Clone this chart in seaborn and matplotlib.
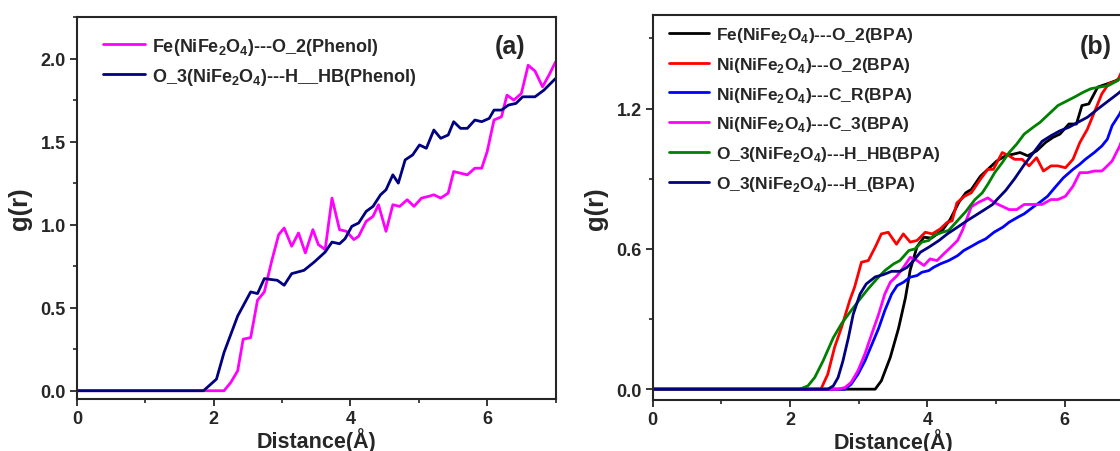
import matplotlib
matplotlib.use('Agg')
import matplotlib.pyplot as plt
import seaborn as sns
import pandas as pd
from matplotlib.ticker import MultipleLocator

# ---- panel (a): phenol ----
a_fe_o2_x = [0, 2.15, 2.25, 2.35, 2.43, 2.54, 2.64, 2.74, 2.85, 2.95, 3.03, 3.14, 3.24, 3.34,
             3.45, 3.53, 3.63, 3.73, 3.84, 3.94, 4.05, 4.12, 4.23, 4.33, 4.41, 4.52, 4.62,
             4.72, 4.83, 4.93, 5.04, 5.14, 5.22, 5.32, 5.43, 5.51, 5.61, 5.71, 5.82, 5.92,
             6.00, 6.10, 6.21, 6.29, 6.39, 6.50, 6.60, 6.70, 6.81, 6.91, 7.0]
a_fe_o2_y = [0, 0, 0.05, 0.12, 0.31, 0.32, 0.545, 0.595, 0.785, 0.94, 0.98, 0.87, 0.95, 0.83,
             0.97, 0.88, 0.85, 1.16, 0.97, 0.96, 0.91, 0.93, 1.02, 1.05, 1.12, 0.96, 1.12,
             1.11, 1.15, 1.11, 1.16, 1.17, 1.18, 1.16, 1.19, 1.32, 1.31, 1.30, 1.34, 1.34,
             1.44, 1.63, 1.65, 1.78, 1.75, 1.79, 1.96, 1.925, 1.83, 1.905, 1.98]

a_o3_hb_x = [0, 1.85, 2.04, 2.15, 2.35, 2.54, 2.64, 2.74, 2.93, 3.03, 3.14, 3.32, 3.47, 3.63,
             3.73, 3.84, 3.92, 4.02, 4.12, 4.23, 4.33, 4.44, 4.52, 4.62, 4.70, 4.80, 4.91,
             5.01, 5.11, 5.22, 5.32, 5.43, 5.51, 5.61, 5.71, 5.82, 5.92, 6.03, 6.10, 6.21,
             6.31, 6.42, 6.52, 6.70, 6.83, 7.0]
a_o3_hb_y = [0, 0, 0.07, 0.23, 0.45, 0.595, 0.585, 0.675, 0.665, 0.635, 0.705, 0.725, 0.775,
             0.835, 0.895, 0.885, 0.915, 0.99, 1.01, 1.08, 1.11, 1.18, 1.21, 1.30, 1.25, 1.39,
             1.42, 1.48, 1.46, 1.57, 1.52, 1.54, 1.62, 1.58, 1.58, 1.63, 1.62, 1.64, 1.69,
             1.69, 1.72, 1.73, 1.77, 1.77, 1.81, 1.88]

# ---- panel (b): BPA ----
b_fe_o2_x = [0, 3.24, 3.33, 3.46, 3.58, 3.68, 3.75, 3.85, 3.95, 4.06, 4.22, 4.33, 4.46, 4.56,
             4.64, 4.77, 4.88, 5.01, 5.14, 5.25, 5.35, 5.46, 5.59, 5.72, 5.83, 5.93, 6.06,
             6.17, 6.25, 6.35, 6.48, 6.62, 6.75, 6.88, 7.0]
b_fe_o2_y = [0, 0, 0.036, 0.136, 0.26, 0.39, 0.51, 0.61, 0.65, 0.646, 0.68, 0.725, 0.80, 0.84,
             0.854, 0.91, 0.94, 0.976, 0.998, 1.005, 1.012, 0.998, 1.019, 1.055, 1.077, 1.091,
             1.134, 1.134, 1.213, 1.22, 1.292, 1.306, 1.32, 1.349, 1.38]

b_ni_o2_x = [0, 2.45, 2.55, 2.65, 2.75, 2.87, 2.94, 3.04, 3.14, 3.24, 3.33, 3.43, 3.55, 3.65,
             3.75, 3.85, 3.97, 4.07, 4.19, 4.29, 4.36, 4.43, 4.54, 4.64, 4.77, 4.88, 4.96,
             5.09, 5.19, 5.27, 5.38, 5.48, 5.59, 5.69, 5.80, 5.90, 6.01, 6.12, 6.22, 6.33,
             6.43, 6.54, 6.64, 6.77, 6.88, 7.0]
b_ni_o2_y = [0, 0, 0.064, 0.18, 0.264, 0.38, 0.436, 0.543, 0.55, 0.607, 0.664, 0.671, 0.62,
             0.664, 0.629, 0.636, 0.671, 0.664, 0.686, 0.714, 0.72, 0.797, 0.825, 0.84, 0.897,
             0.94, 0.94, 1.012, 0.998, 0.983, 0.983, 0.955, 0.99, 0.933, 0.955, 0.955, 0.947,
             0.983, 1.055, 1.112, 1.184, 1.263, 1.306, 1.32, 1.392, 1.44]

b_ni_cr_x = [0, 2.80, 2.89, 2.99, 3.09, 3.19, 3.29, 3.38, 3.48, 3.56, 3.65, 3.75, 3.85, 3.92,
             4.02, 4.09, 4.19, 4.31, 4.44, 4.53, 4.66, 4.75, 4.85, 4.97, 5.10, 5.19, 5.32,
             5.41, 5.54, 5.64, 5.75, 5.85, 5.98, 6.12, 6.22, 6.30, 6.43, 6.54, 6.62, 6.69,
             6.80, 6.89, 7.0]
b_ni_cr_y = [0, 0, 0.021, 0.064, 0.12, 0.19, 0.26, 0.336, 0.407, 0.443, 0.457, 0.479, 0.486,
             0.50, 0.507, 0.521, 0.536, 0.55, 0.571, 0.593, 0.614, 0.629, 0.643, 0.671, 0.693,
             0.714, 0.736, 0.75, 0.779, 0.80, 0.825, 0.86, 0.904, 0.94, 0.962, 0.983, 1.012,
             1.04, 1.069, 1.127, 1.177, 1.234, 1.29]

b_ni_c3_x = [0, 2.70, 2.80, 2.89, 2.99, 3.09, 3.19, 3.29, 3.38, 3.46, 3.56, 3.65, 3.75, 3.85,
             3.95, 4.04, 4.14, 4.24, 4.34, 4.44, 4.51, 4.64, 4.75, 4.88, 4.98, 5.09, 5.19,
             5.30, 5.41, 5.54, 5.67, 5.80, 5.90, 6.01, 6.12, 6.22, 6.33, 6.43, 6.54, 6.62,
             6.69, 6.80, 6.89, 7.0]
b_ni_c3_y = [0, 0, 0.007, 0.029, 0.079, 0.15, 0.236, 0.32, 0.407, 0.457, 0.486, 0.52, 0.564,
             0.55, 0.529, 0.557, 0.55, 0.579, 0.607, 0.636, 0.679, 0.78, 0.80, 0.818, 0.797,
             0.782, 0.768, 0.768, 0.79, 0.79, 0.79, 0.811, 0.811, 0.825, 0.868, 0.926, 0.926,
             0.933, 0.933, 0.955, 0.976, 1.04, 1.11, 1.16]

b_o3_hb_x = [0, 2.14, 2.26, 2.36, 2.48, 2.63, 2.75, 2.89, 3.02, 3.14, 3.26, 3.38, 3.51, 3.60,
             3.73, 3.82, 3.92, 4.02, 4.09, 4.22, 4.31, 4.43, 4.56, 4.69, 4.80, 4.88, 4.98,
             5.09, 5.19, 5.30, 5.41, 5.54, 5.64, 5.77, 5.90, 6.04, 6.14, 6.27, 6.38, 6.51,
             6.64, 6.77, 6.88, 7.0]
b_o3_hb_y = [0, 0, 0.014, 0.05, 0.12, 0.22, 0.28, 0.336, 0.386, 0.43, 0.47, 0.507, 0.536, 0.55,
             0.593, 0.60, 0.629, 0.636, 0.657, 0.671, 0.679, 0.718, 0.76, 0.81, 0.84, 0.876,
             0.926, 0.969, 1.012, 1.048, 1.091, 1.12, 1.141, 1.177, 1.213, 1.234, 1.249, 1.27,
             1.285, 1.292, 1.299, 1.32, 1.349, 1.37]

b_o3_h_x = [0, 2.55, 2.63, 2.70, 2.77, 2.85, 2.92, 3.02, 3.11, 3.24, 3.36, 3.48, 3.60, 3.70,
            3.80, 3.90, 4.02, 4.17, 4.29, 4.44, 4.58, 4.70, 4.85, 4.95, 5.01, 5.14, 5.27,
            5.41, 5.54, 5.67, 5.80, 5.93, 6.06, 6.19, 6.33, 6.48, 6.64, 6.77, 6.89, 7.0]
b_o3_h_y = [0, 0, 0.014, 0.05, 0.12, 0.22, 0.32, 0.407, 0.45, 0.48, 0.49, 0.504, 0.504, 0.52,
            0.55, 0.586, 0.607, 0.636, 0.664, 0.693, 0.721, 0.743, 0.771, 0.79, 0.81, 0.85,
            0.9, 0.96, 1.01, 1.06, 1.084, 1.105, 1.12, 1.141, 1.163, 1.198, 1.234, 1.263,
            1.292, 1.32]

sub = r'(NiFe$_{\mathbf{2}}$O$_{\mathbf{4}}$)'
panel_a = [
    ('Fe' + sub + '---O_2(Phenol)', a_fe_o2_x, a_fe_o2_y, '#FF00FF'),
    ('O_3' + sub + '---H__HB(Phenol)', a_o3_hb_x, a_o3_hb_y, '#000080'),
]
panel_b = [
    ('Fe' + sub + '---O_2(BPA)', b_fe_o2_x, b_fe_o2_y, '#000000'),
    ('Ni' + sub + '---O_2(BPA)', b_ni_o2_x, b_ni_o2_y, '#FF0000'),
    ('Ni' + sub + '---C_R(BPA)', b_ni_cr_x, b_ni_cr_y, '#0000FF'),
    ('Ni' + sub + '---C_3(BPA)', b_ni_c3_x, b_ni_c3_y, '#FF00FF'),
    ('O_3' + sub + '---H_HB(BPA)', b_o3_hb_x, b_o3_hb_y, '#008000'),
    ('O_3' + sub + '---H_(BPA)', b_o3_h_x, b_o3_h_y, '#000080'),
]

sns.set_style('ticks')
plt.rcParams['font.family'] = ['Liberation Sans', 'DejaVu Sans']
plt.rcParams['font.weight'] = 'bold'
plt.rcParams['mathtext.fontset'] = 'custom'
plt.rcParams['mathtext.bf'] = 'Liberation Sans:bold'
plt.rcParams['mathtext.rm'] = 'Liberation Sans:bold'

fig = plt.figure(figsize=(11.2, 4.52), dpi=100)
ax_a = fig.add_axes([0.0688, 0.115, 0.4272, 0.845])
ax_b = fig.add_axes([0.5827, 0.1135, 0.4293, 0.851])


def draw(ax, series, ylim, ymaj, ymin, tag, leg_anchor, leg_fs, spacing):
    for name, xs, ys, col in series:
        df = pd.DataFrame({'x': xs, 'y': ys})
        sns.lineplot(data=df, x='x', y='y', ax=ax, color=col, lw=2.0, label=name)
    ax.set_xlim(0, 7)
    ax.set_ylim(*ylim)
    ax.xaxis.set_major_locator(MultipleLocator(2))
    ax.xaxis.set_minor_locator(MultipleLocator(1))
    ax.yaxis.set_major_locator(MultipleLocator(ymaj))
    ax.yaxis.set_minor_locator(MultipleLocator(ymin))
    ax.tick_params(which='major', direction='out', length=5, width=1.3, labelsize=13, pad=3)
    ax.tick_params(which='minor', direction='out', length=3, width=1.2)
    for lab in ax.get_xticklabels() + ax.get_yticklabels():
        lab.set_fontweight('bold')
    for sp in ax.spines.values():
        sp.set_linewidth(1.5)
        sp.set_visible(True)
    ax.set_xlabel('Distance(Å)', fontsize=15.5, fontweight='bold', labelpad=0)
    ax.set_ylabel('g(r)', fontsize=18.5, fontweight='bold', labelpad=6)
    ax.text(tag[0], tag[1], tag[2], transform=ax.transAxes, fontsize=18,
            fontweight='bold', ha='center', va='center')
    ax.legend(loc='upper left', bbox_to_anchor=leg_anchor, frameon=False,
              prop={'size': leg_fs, 'weight': 'bold'}, handlelength=2.3,
              handletextpad=0.4, labelspacing=spacing, borderaxespad=0)


draw(ax_a, panel_a, (-0.05, 2.25), 0.5, 0.25, (0.905, 0.924, '(a)'),
     (0.04, 0.97), 13, 0.5)
draw(ax_b, panel_b, (-0.045, 1.6), 0.6, 0.3, (0.922, 0.919, '(b)'),
     (0.02, 0.993), 12.5, 0.63)

fig.savefig('out.png', dpi=100)
